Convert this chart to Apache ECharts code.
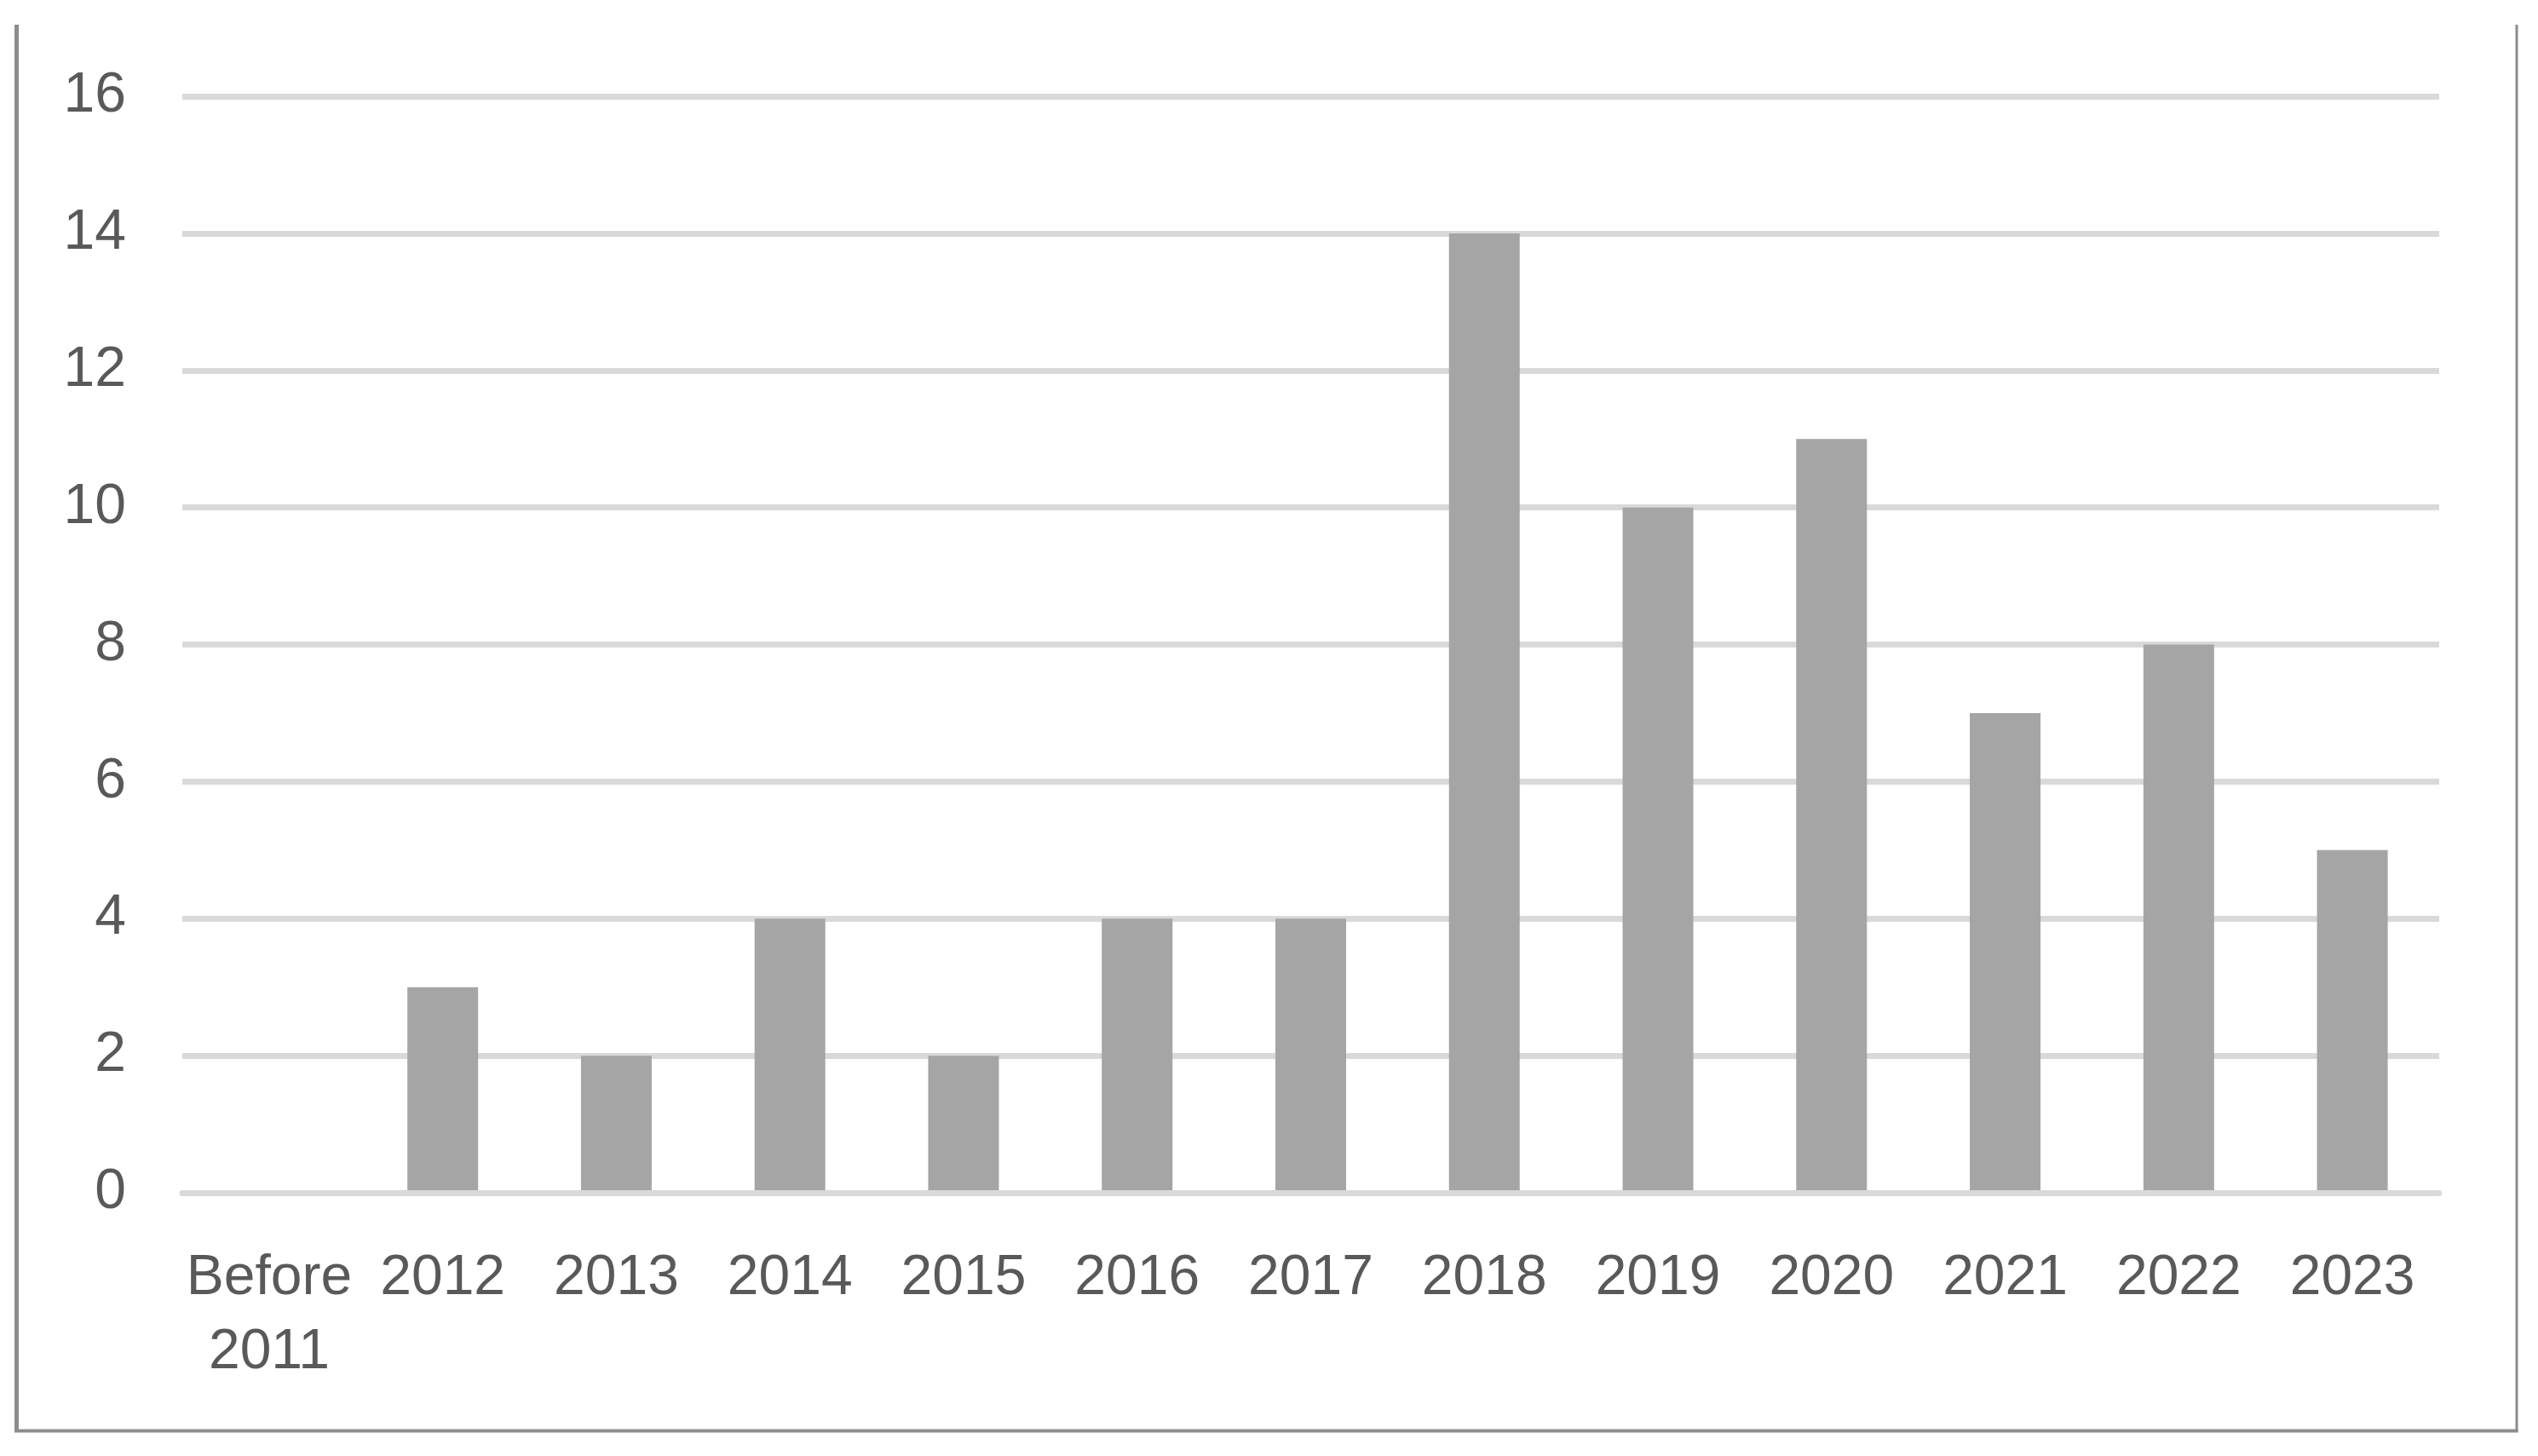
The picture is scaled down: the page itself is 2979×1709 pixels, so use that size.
<!DOCTYPE html>
<html>
<head>
<meta charset="utf-8">
<script src="https://cdn.jsdelivr.net/npm/echarts@6/dist/echarts.min.js"></script>
<style>
  html, body { margin: 0; padding: 0; background: #ffffff; }
  #chart { width: 2979px; height: 1709px; }
</style>
</head>
<body>
<div id="chart"></div>
<script>
const categories = ["Before\n2011", "2012", "2013", "2014", "2015", "2016", "2017", "2018", "2019", "2020", "2021", "2022", "2023"];
const counts = [0, 3, 2, 4, 2, 4, 4, 14, 10, 11, 7, 8, 5];
const yTicks = [0, 2, 4, 6, 8, 10, 12, 14, 16];

const FONT = "'Liberation Sans', Arial, sans-serif";
const chart = echarts.init(document.getElementById('chart'), null, { renderer: 'canvas' });

chart.setOption({
  backgroundColor: '#ffffff',
  animation: false,
  grid: { left: 214, right: 116, top: 113, bottom: 309, containLabel: false },
  xAxis: {
    type: 'category',
    data: categories,
    z: 3,
    axisLine: { show: true, lineStyle: { color: '#d9d9d9', width: 7 } },
    axisTick: { show: false },
    axisLabel: {
      interval: 0,
      color: '#595959',
      fontFamily: FONT,
      fontSize: 66,
      lineHeight: 87,
      margin: 57
    }
  },
  yAxis: {
    type: 'value',
    min: yTicks[0],
    max: yTicks[yTicks.length - 1],
    interval: 2,
    axisLine: { show: false },
    axisTick: { show: false },
    splitLine: { show: true, lineStyle: { color: '#d9d9d9', width: 7 } },
    axisLabel: {
      color: '#595959',
      fontFamily: FONT,
      fontSize: 66,
      margin: 66
    }
  },
  series: [{
    type: 'bar',
    data: counts,
    barWidth: 83,
    itemStyle: { color: '#a5a5a5' }
  }],
  graphic: [
    { type: 'line', shape: { x1: 19.5, y1: 29, x2: 19.5, y2: 1681 }, style: { stroke: '#8c8c8c', lineWidth: 5 } },
    { type: 'line', shape: { x1: 2954, y1: 29, x2: 2954, y2: 1681 }, style: { stroke: '#8c8c8c', lineWidth: 3 } },
    { type: 'line', shape: { x1: 17, y1: 1679.5, x2: 2955.5, y2: 1679.5 }, style: { stroke: '#8c8c8c', lineWidth: 4 } }
  ]
});
</script>
</body>
</html>
